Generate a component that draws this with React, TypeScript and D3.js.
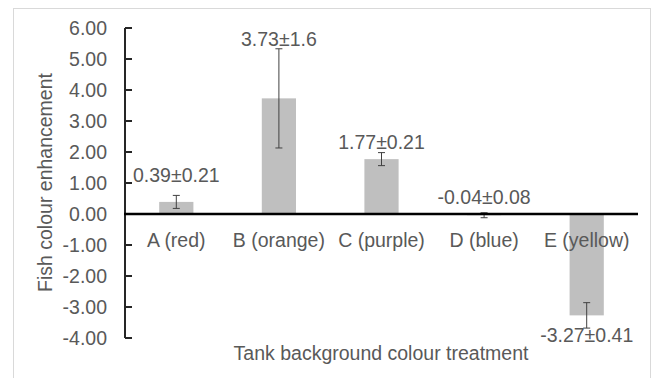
import React from "react";
import * as d3 from "d3";

const categories = ["A (red)", "B (orange)", "C (purple)", "D (blue)", "E (yellow)"];
const means = [0.39, 3.73, 1.77, -0.04, -3.27];
const errors = [0.21, 1.6, 0.21, 0.08, 0.41];
const labels = ["0.39±0.21", "3.73±1.6", "1.77±0.21", "-0.04±0.08", "-3.27±0.41"];
const yTicks = [6, 5, 4, 3, 2, 1, 0, -1, -2, -3, -4];

// label placement offsets in px relative to the error-bar end (presentation only)
const labelGap = [20, 10, 10, 16, -7];

const W = 657;
const H = 378;
const FONT = "'Liberation Sans', Arial, sans-serif";
const TXT = "#595959";

export default function App() {
  const x = d3.scaleBand<string>().domain(categories).range([125, 638]).paddingInner(2 / 3).paddingOuter(1 / 3);
  const y = d3.scaleLinear().domain([-4, 6]).range([338, 28]);
  const bw = x.bandwidth();

  return (
    <svg width={W} height={H} style={{ position: "absolute", left: 0, top: 0, background: "#fff" }}>
      <rect x={13.5} y={8.5} width={637} height={380} fill="#fff" stroke="#D9D9D9" strokeWidth={1} />
      {/* bars */}
      {categories.map((c, i) => {
        const v = means[i];
        const y0 = y(0);
        const y1 = y(v);
        return (
          <rect key={c} x={x(c)!} y={Math.min(y0, y1)} width={bw} height={Math.abs(y1 - y0)} fill="#BFBFBF" />
        );
      })}
      {/* error bars */}
      {categories.map((c, i) => {
        const cx = x(c)! + bw / 2;
        const hi = y(means[i] + errors[i]);
        const lo = y(means[i] - errors[i]);
        return (
          <g key={c} stroke="#404040" strokeWidth={1}>
            <line x1={cx} x2={cx} y1={hi} y2={lo} />
            <line x1={cx - 3.5} x2={cx + 3.5} y1={hi} y2={hi} />
            <line x1={cx - 3.5} x2={cx + 3.5} y1={lo} y2={lo} />
          </g>
        );
      })}
      {/* y axis */}
      <line x1={125} x2={125} y1={y(6)} y2={y(-4)} stroke="#262626" strokeWidth={2} />
      {yTicks.map((t) => (
        <g key={t}>
          <line x1={125} x2={132} y1={y(t)} y2={y(t)} stroke="#262626" strokeWidth={2} />
          <text x={107} y={y(t)} dy="0.35em" textAnchor="end" fontFamily={FONT} fontSize={19.5} fill={TXT}>
            {t.toFixed(2)}
          </text>
        </g>
      ))}
      {/* zero line */}
      <line x1={124} x2={638} y1={y(0)} y2={y(0)} stroke="#000" strokeWidth={2.5} />
      {/* category labels */}
      {categories.map((c) => (
        <text key={c} x={x(c)! + bw / 2} y={240} dy="0.35em" textAnchor="middle" fontFamily={FONT} fontSize={19.5} fill={TXT}>
          {c}
        </text>
      ))}
      {/* data labels */}
      {categories.map((c, i) => {
        const cx = x(c)! + bw / 2;
        const g = labelGap[i];
        const ly = g >= 0 ? y(means[i] + errors[i]) - g : y(means[i] - errors[i]) - g;
        return (
          <text key={c} x={cx} y={ly} dy="0.35em" textAnchor="middle" fontFamily={FONT} fontSize={19.5} fill={TXT}>
            {labels[i]}
          </text>
        );
      })}
      {/* axis titles */}
      <text x={381} y={353} dy="0.35em" textAnchor="middle" fontFamily={FONT} fontSize={19.5} fill={TXT}>
        Tank background colour treatment
      </text>
      <text transform={`translate(45,${(70 + 295) / 2}) rotate(-90)`} dy="0.35em" textAnchor="middle" fontFamily={FONT} fontSize={19.5} fill={TXT}>
        Fish colour enhancement
      </text>
    </svg>
  );
}
